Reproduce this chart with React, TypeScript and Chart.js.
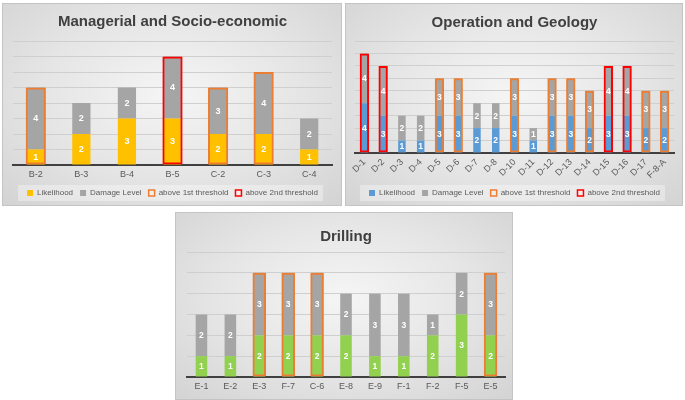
import React, { useEffect, useRef } from "react";
import { Chart, registerables } from "chart.js";

Chart.register(...registerables);

const FONT = "'Liberation Sans', Arial, Helvetica, sans-serif";

// Series names
const seriesNames = ["Likelihood", "Damage Level", "above 1st threshold", "above 2nd threshold"];

// Managerial and Socio-economic
const msCategories = ["B-2", "B-3", "B-4", "B-5", "C-2", "C-3", "C-4"];
const msLikelihood = [1, 2, 3, 3, 2, 2, 1];
const msDamage = [4, 2, 2, 4, 3, 4, 2];
const msThreshold = [1, 0, 0, 2, 1, 1, 0];

// Operation and Geology
const ogCategories = ["D-1", "D-2", "D-3", "D-4", "D-5", "D-6", "D-7", "D-8", "D-10", "D-11", "D-12", "D-13", "D-14", "D-15", "D-16", "D-17", "F-8-A"];
const ogLikelihood = [4, 3, 1, 1, 3, 3, 2, 2, 3, 1, 3, 3, 2, 3, 3, 2, 2];
const ogDamage = [4, 4, 2, 2, 3, 3, 2, 2, 3, 1, 3, 3, 3, 4, 4, 3, 3];
const ogThreshold = [2, 2, 0, 0, 1, 1, 0, 0, 1, 0, 1, 1, 1, 2, 2, 1, 1];

// Drilling
const drCategories = ["E-1", "E-2", "E-3", "F-7", "C-6", "E-8", "E-9", "F-1", "F-2", "F-5", "E-5"];
const drLikelihood = [1, 1, 2, 2, 2, 2, 1, 1, 2, 3, 2];
const drDamage = [2, 2, 3, 3, 3, 2, 3, 3, 1, 2, 3];
const drThreshold = [0, 0, 1, 1, 1, 0, 0, 0, 0, 0, 1];

const GRAY = "#a5a5a5";
const ORANGE = "#ed7d31";
const RED = "#ff0000";

const valueLabels = {
  id: "valueLabels",
  afterDatasetsDraw(chart: any, _args: any, opts: any) {
    const ctx = chart.ctx;
    ctx.save();
    ctx.font = `bold ${opts.size || 9}px ${FONT}`;
    ctx.fillStyle = "#ffffff";
    ctx.textAlign = "center";
    ctx.textBaseline = "middle";
    [0, 1].forEach((di) => {
      const meta = chart.getDatasetMeta(di);
      const ds = chart.data.datasets[di];
      meta.data.forEach((el: any, i: number) => {
        const v = ds.data[i];
        if (v == null) return;
        const p = el.getProps(["x", "y", "base"], true);
        ctx.fillText(String(v), p.x, (p.y + p.base) / 2 + 0.5);
      });
    });
    ctx.restore();
  },
};

const legendBg = {
  id: "legendBg",
  beforeDraw(chart: any) {
    const lg = chart.legend;
    if (!lg || !lg.options.display || !lg.legendHitBoxes || !lg.legendHitBoxes.length) return;
    const b = lg.legendHitBoxes;
    const x0 = Math.min(...b.map((h: any) => h.left)) - 9;
    const x1 = Math.max(...b.map((h: any) => h.left + h.width)) + 5;
    const y0 = Math.min(...b.map((h: any) => h.top)) - 4;
    const y1 = Math.max(...b.map((h: any) => h.top + h.height)) + 4;
    const ctx = chart.ctx;
    ctx.save();
    ctx.fillStyle = "rgba(255,255,255,0.35)";
    ctx.fillRect(x0, y0, x1 - x0, y1 - y0);
    ctx.restore();
  },
};

type PanelProps = {
  left: number;
  top: number;
  width: number;
  height: number;
  canvasHeight: number;
  title: string;
  categories: string[];
  likelihood: number[];
  damage: number[];
  threshold: number[];
  color: string;
  yMax: number;
  rotate: boolean;
  showLegend: boolean;
  titlePad: { top: number; bottom: number };
  pad: { left: number; right: number; top: number; bottom: number };
  xHeight: number;
  valueSize: number;
  thrPct: number;
};

function Panel(p: PanelProps) {
  const ref = useRef<HTMLCanvasElement | null>(null);
  useEffect(() => {
    if (!ref.current) return;
    const th1 = p.categories.map((_, i) => (p.threshold[i] === 1 ? p.likelihood[i] + p.damage[i] : null));
    const th2 = p.categories.map((_, i) => (p.threshold[i] === 2 ? p.likelihood[i] + p.damage[i] : null));
    const chart = new Chart(ref.current, {
      type: "bar",
      data: {
        labels: p.categories,
        datasets: [
          { label: seriesNames[0], data: p.likelihood, backgroundColor: p.color, stack: "s", order: 1, barPercentage: 0.4, categoryPercentage: 1, borderWidth: 0 },
          { label: seriesNames[1], data: p.damage, backgroundColor: GRAY, stack: "s", order: 1, barPercentage: 0.4, categoryPercentage: 1, borderWidth: 0 },
          { label: seriesNames[2], data: th1, backgroundColor: "rgba(0,0,0,0)", borderColor: ORANGE, borderWidth: 2, borderSkipped: false, stack: "t1", grouped: false, order: 0, barPercentage: p.thrPct, categoryPercentage: 1 } as any,
          { label: seriesNames[3], data: th2, backgroundColor: "rgba(0,0,0,0)", borderColor: RED, borderWidth: 2, borderSkipped: false, stack: "t2", grouped: false, order: 0, barPercentage: p.thrPct, categoryPercentage: 1 } as any,
        ],
      },
      options: {
        responsive: false,
        animation: false,
        layout: { padding: p.pad },
        scales: {
          x: {
            stacked: true,
            z: 1,
            grid: { display: false, drawTicks: false },
            border: { display: true, color: "#404040", width: 2 },
            ticks: {
              color: "#595959",
              font: { family: FONT, size: 9 },
              padding: 4,
              autoSkip: false,
              minRotation: p.rotate ? 45 : 0,
              maxRotation: p.rotate ? 45 : 0,
            },
            afterFit: (s: any) => {
              s.height = p.xHeight;
            },
          },
          y: {
            stacked: true,
            min: 0,
            max: p.yMax,
            ticks: { display: false, stepSize: 1 },
            grid: { color: "#cfcfcf", drawTicks: false, lineWidth: 1 },
            border: { display: false },
          },
        },
        plugins: {
          title: {
            display: true,
            text: p.title,
            color: "#404040",
            font: { family: FONT, size: 15, weight: "bold" },
            padding: p.titlePad,
          },
          legend: {
            display: p.showLegend,
            position: "bottom",
            labels: {
              usePointStyle: true,
              pointStyle: "rect",
              boxWidth: 6,
              boxHeight: 6,
              padding: 7,
              color: "#595959",
              font: { family: FONT, size: 8 },
              sort: (a: any, b: any) => a.datasetIndex - b.datasetIndex,
              generateLabels: (c: any) => {
                const items = (Chart.defaults.plugins.legend.labels as any).generateLabels(c);
                return items.map((it: any) => {
                  if (it.datasetIndex >= 2) {
                    it.fillStyle = "#eeeeee";
                    it.lineWidth = 1.5;
                  } else {
                    it.lineWidth = 0;
                    it.strokeStyle = "rgba(0,0,0,0)";
                  }
                  return it;
                });
              },
            },
          },
          tooltip: { enabled: false },
          valueLabels: { size: p.valueSize },
        } as any,
      },
      plugins: [valueLabels, legendBg],
    });
    return () => chart.destroy();
  }, []);

  return (
    <div
      style={{
        position: "absolute",
        left: p.left,
        top: p.top,
        width: p.width,
        height: p.height,
        overflow: "hidden",
        boxSizing: "border-box",
        border: "1px solid #c4c4c4",
        background: "radial-gradient(ellipse 70% 75% at 50% 45%, #f5f5f5 0%, #e5e5e5 55%, #d4d4d4 100%)",
      }}
    >
      <canvas ref={ref} width={p.width - 2} height={p.canvasHeight} style={{ display: "block" }} />
    </div>
  );
}

export default function App() {
  return (
    <div style={{ position: "absolute", left: 0, top: 0, width: 685, height: 400, background: "#ffffff" }}>
      <Panel
        left={2}
        top={3}
        width={340}
        height={203}
        canvasHeight={203}
        title="Managerial and Socio-economic"
        categories={msCategories}
        likelihood={msLikelihood}
        damage={msDamage}
        threshold={msThreshold}
        color="#ffc000"
        yMax={8}
        rotate={false}
        showLegend={true}
        titlePad={{ top: 9, bottom: 10 }}
        pad={{ left: 10, right: 9, top: 0, bottom: 0 }}
        xHeight={17}
        valueSize={9}
        thrPct={0.444}
      />
      <Panel
        left={345}
        top={3}
        width={338}
        height={203}
        canvasHeight={203}
        title="Operation and Geology"
        categories={ogCategories}
        likelihood={ogLikelihood}
        damage={ogDamage}
        threshold={ogThreshold}
        color="#5b9bd5"
        yMax={9}
        rotate={true}
        showLegend={true}
        titlePad={{ top: 10, bottom: 9 }}
        pad={{ left: 9, right: 8, top: 0, bottom: 0 }}
        xHeight={29}
        valueSize={8.5}
        thrPct={0.5}
      />
      <Panel
        left={175}
        top={212}
        width={338}
        height={188}
        canvasHeight={188}
        title="Drilling"
        categories={drCategories}
        likelihood={drLikelihood}
        damage={drDamage}
        threshold={drThreshold}
        color="#92d050"
        yMax={6}
        rotate={false}
        showLegend={false}
        titlePad={{ top: 15, bottom: 6 }}
        pad={{ left: 11, right: 7, top: 0, bottom: 8 }}
        xHeight={16}
        valueSize={8.5}
        thrPct={0.47}
      />
    </div>
  );
}
